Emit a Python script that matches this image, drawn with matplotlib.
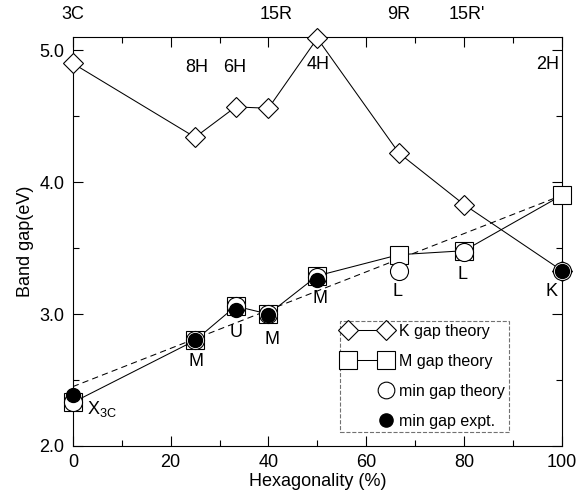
import matplotlib
matplotlib.use('Agg')
import matplotlib.pyplot as plt
from matplotlib.lines import Line2D
from matplotlib.legend_handler import HandlerLine2D

plt.rcParams['font.family'] = ['Liberation Sans', 'DejaVu Sans']

# hexagonality of the polytypes (%)
polytypes = ['3C', '8H', '6H', '15R', '4H', '9R', "15R'", '2H']
hexagonality = [0, 25, 33.3, 40, 50, 66.7, 80, 100]

# band gaps (eV)
k_gap = [4.90, 4.34, 4.57, 4.56, 5.09, 4.22, 3.83, 3.33]
m_gap = [2.33, 2.80, 3.06, 3.00, 3.29, 3.45, 3.48, 3.90]
min_gap_theory = [2.33, 2.80, 3.06, 3.00, 3.28, 3.33, 3.47, 3.33]
expt_hex = [0, 25, 33.3, 40, 50, 100]
min_gap_expt = [2.39, 2.80, 3.03, 2.99, 3.26, 3.33]
fit_hex = [0, 100]
fit_gap = [2.45, 3.90]

# point labels (minimum gap location)
point_labels = ['X$_{\\mathregular{3C}}$', 'M', 'U', 'M', 'M', 'L', 'L', 'K']

FS = 13


class RightOnly(HandlerLine2D):
    # legend marker only at the right end
    def create_artists(self, *args, **kwargs):
        arts = super().create_artists(*args, **kwargs)
        for a in arts:
            a.set_markevery([1])
        return arts


fig, ax = plt.subplots(figsize=(5.78, 5.0), dpi=100)
fig.subplots_adjust(left=0.126, right=0.972, top=0.926, bottom=0.108)

lw = 0.75
ax.plot(fit_hex, fit_gap, color='k', lw=lw, ls=(0, (6, 4)), zorder=2)
ax.plot(hexagonality, k_gap, color='k', lw=lw, marker='D', ms=10.5,
        mfc='white', mec='k', mew=0.8, clip_on=False, zorder=3)
ax.plot(hexagonality, m_gap, color='k', lw=lw, marker='s', ms=13.5,
        mfc='white', mec='k', mew=0.8, clip_on=False, zorder=3)
ax.plot(hexagonality, min_gap_theory, ls='none', marker='o', ms=13,
        mfc='white', mec='k', mew=0.8, clip_on=False, zorder=4)
ax.plot(expt_hex, min_gap_expt, ls='none', marker='o', ms=10,
        color='k', clip_on=False, zorder=5)

ax.set_xlim(0, 100)
ax.set_ylim(2.0, 5.1)
ax.set_xticks([0, 20, 40, 60, 80, 100])
ax.set_xticks([10, 30, 50, 70, 90], minor=True)
ax.set_yticks([2.0, 3.0, 4.0, 5.0])
ax.set_yticks([2.5, 3.5, 4.5], minor=True)
ax.set_yticklabels(['2.0', '3.0', '4.0', '5.0'])
ax.tick_params(which='both', direction='in', top=True, right=True,
               labelsize=FS, width=0.8, pad=6)
ax.tick_params(which='major', length=7)
ax.tick_params(which='minor', length=4)
for s in ax.spines.values():
    s.set_linewidth(0.8)

ax.set_xlabel('Hexagonality (%)', fontsize=FS, labelpad=1)
ax.set_ylabel('Band gap(eV)', fontsize=FS, labelpad=4)

# polytype names
name_pos = [(0, 5.27), (25.4, 4.87), (33.2, 4.87), (41.5, 5.27),
            (50.2, 4.89), (66.7, 5.27), (80.6, 5.27), (97.0, 4.89)]
for name, (px, py) in zip(polytypes, name_pos):
    ax.text(px, py, name, ha='center', va='center', fontsize=FS, clip_on=False)

# labels of the minimum gap points
lab_pos = [(3.0, 2.28), (25.1, 2.64), (33.3, 2.86), (40.7, 2.81),
           (50.5, 3.12), (66.3, 3.17), (79.7, 3.30), (97.8, 3.17)]
for lab, (px, py) in zip(point_labels, lab_pos):
    ha = 'left' if lab.startswith('X') else 'center'
    ax.text(px, py, lab, ha=ha, va='center', fontsize=FS)

handles = [
    Line2D([], [], color='k', lw=lw, marker='D', ms=10.5, mfc='white', mec='k', mew=0.8),
    Line2D([], [], color='k', lw=lw, marker='s', ms=13, mfc='white', mec='k', mew=0.8),
    Line2D([], [], ls='none', marker='o', ms=12, mfc='white', mec='k', mew=0.8),
    Line2D([], [], ls='none', marker='o', ms=9.5, color='k'),
]
labels = ['K gap theory', 'M gap theory', 'min gap theory', 'min gap expt.']
leg = ax.legend(handles, labels, loc='lower left', bbox_to_anchor=(0.546, 0.034),
                numpoints=2, fontsize=11.5, handlelength=2.95, handletextpad=0.55,
                labelspacing=0.93, borderpad=0.22, borderaxespad=0, fancybox=False,
                handler_map={handles[2]: RightOnly(), handles[3]: RightOnly()})
fr = leg.get_frame()
fr.set_linestyle('--')
fr.set_edgecolor('0.3')
fr.set_linewidth(0.8)

fig.savefig('out.png', dpi=100)
